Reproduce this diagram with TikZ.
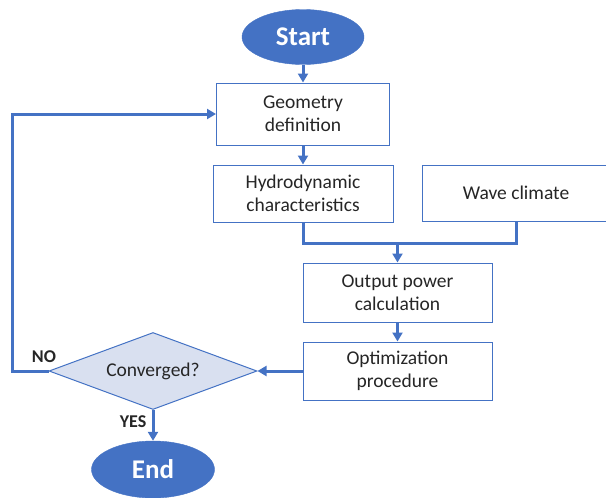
\documentclass[tikz,border=0pt]{standalone}
\usepackage{fontspec}
\setmainfont{Carlito}
\usetikzlibrary{shapes.geometric,arrows.meta}
\definecolor{ofblue}{HTML}{4472C4}
\definecolor{dfill}{HTML}{D9E0F0}
\definecolor{txt}{HTML}{262626}
\begin{document}
\begin{tikzpicture}[x=1pt,y=-1pt,
  box/.style={draw=ofblue, line width=1pt, fill=white, text=txt, align=center,
    font=\fontsize{19.5}{23}\selectfont, inner sep=0pt},
  term/.style={ellipse, fill=ofblue, draw=ofblue, text=white,
    font=\bfseries\fontsize{27}{30}\selectfont, inner sep=0pt},
  conn/.style={draw=ofblue, line width=3pt},
  arr/.style={conn, -{Triangle[length=9pt,width=10pt]}},
  lbl/.style={font=\bfseries\fontsize{18}{20}\selectfont, text=txt}]
\useasboundingbox (0,0) rectangle (606,498);
\clip (0,0) rectangle (606,498);
\node[term, minimum width=122pt, minimum height=55pt] (start) at (303,37) {Start};
\node[box, minimum width=173pt, minimum height=62pt] (geo) at (303,114) {Geometry\\definition};
\node[box, minimum width=180pt, minimum height=57pt] (hyd) at (303,193.5) {Hydrodynamic\\characteristics};
\node[box, minimum width=188pt, minimum height=56pt] (wave) at (516,193) {Wave climate};
\node[box, minimum width=189pt, minimum height=59pt] (out) at (397.5,292.5) {Output power\\calculation};
\node[box, minimum width=189pt, minimum height=58pt] (opt) at (397.5,371) {Optimization\\procedure};
\node[diamond, aspect=2.7, draw=ofblue, fill=dfill, line width=1pt, text=txt,
  font=\fontsize{19.5}{23}\selectfont, inner sep=0pt,
  minimum width=208pt, minimum height=77pt] (conv) at (153,371) {Converged?};
\node[term, minimum width=123pt, minimum height=57pt] (end) at (153,469.5) {End};
\node[lbl] (no) at (44,357) {NO};
\node[lbl] (yes) at (133,422) {YES};
\coordinate (j) at (397.5,243);
\coordinate (nl) at (12,114);
\draw[arr] (start.south) -- (geo.north);
\draw[arr] (geo.south) -- (hyd.north);
\draw[conn] (hyd.south) -- (hyd.south |- j) -| (wave.south);
\draw[arr] (j) -- (out.north);
\draw[arr] (out.south) -- (opt.north);
\draw[arr] (opt.west) -- (conv.east);
\draw[arr] (conv.west) -| (nl) -- (geo.west);
\draw[arr] (conv.south) -- (end.north);
\end{tikzpicture}
\end{document}
